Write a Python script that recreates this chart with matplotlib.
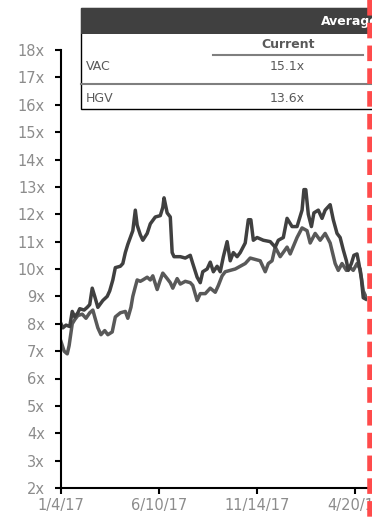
import numpy as np
import matplotlib
matplotlib.use('Agg')
import matplotlib.pyplot as plt
from matplotlib.lines import Line2D
from matplotlib.patches import Rectangle

# Dados
inicio = np.datetime64('2017-01-04')

dias_vac = [0, 3, 8, 14, 18, 22, 27, 30, 37, 42, 46, 50, 54, 59, 67, 74, 78, 83, 87,
            95, 99, 103, 107, 111, 115, 119, 122, 127, 131, 138, 143, 151, 159, 163,
            165, 170, 175, 178, 181, 191, 199, 207, 211, 218, 223, 227, 234, 239, 244,
            250, 255, 260, 266, 271, 276, 282, 287, 295, 300, 304, 308, 314, 324, 335,
            343, 348, 356, 362, 370, 378, 386, 389, 392, 396, 401, 405, 412, 418, 423,
            431, 436, 442, 447, 452, 457, 460, 465, 469, 474, 477, 481, 484, 488]
vac = [8.0, 7.85, 7.95, 7.9, 8.45, 8.25, 8.4, 8.55, 8.5, 8.6, 8.7, 9.3, 9.0, 8.6, 8.85,
       9.0, 9.2, 9.6, 10.05, 10.1, 10.2, 10.6, 10.9, 11.15, 11.4, 12.15, 11.6, 11.25,
       11.05, 11.3, 11.65, 11.9, 11.95, 12.25, 12.6, 12.05, 11.9, 10.6, 10.45, 10.45,
       10.4, 10.5, 10.2, 9.7, 9.5, 9.9, 10.0, 10.25, 9.9, 10.1, 9.9, 10.45, 11.0, 10.3,
       10.6, 10.45, 10.6, 10.95, 11.8, 11.8, 11.05, 11.15, 11.05, 11.0, 10.8, 11.05,
       11.15, 11.85, 11.55, 11.55, 12.15, 12.9, 12.9, 12.0, 11.55, 12.05, 12.15, 11.85,
       12.15, 12.35, 11.8, 11.3, 11.15, 10.7, 10.3, 9.95, 10.2, 10.5, 10.55, 10.2, 9.65,
       8.95, 8.9]

dias_hgv = [0, 5, 10, 13, 18, 22, 27, 34, 40, 46, 51, 54, 59, 64, 70, 75, 82, 87, 95,
            103, 107, 112, 115, 119, 122, 127, 131, 138, 143, 147, 154, 159, 163, 170,
            175, 179, 186, 191, 199, 207, 211, 218, 223, 231, 239, 247, 252, 258, 263,
            271, 279, 287, 295, 303, 311, 319, 327, 332, 338, 343, 351, 362, 367, 378,
            386, 394, 399, 407, 415, 423, 431, 439, 444, 450, 457, 463, 468, 474, 479,
            484, 488]
hgv = [7.35, 7.0, 6.9, 7.2, 8.0, 8.15, 8.3, 8.35, 8.2, 8.4, 8.5, 8.25, 7.85, 7.6, 7.75,
       7.6, 7.7, 8.25, 8.4, 8.45, 8.2, 8.6, 9.0, 9.35, 9.6, 9.55, 9.6, 9.7, 9.6, 9.75,
       9.25, 9.6, 9.85, 9.65, 9.5, 9.3, 9.65, 9.45, 9.55, 9.5, 9.4, 8.85, 9.1, 9.1, 9.3,
       9.15, 9.4, 9.75, 9.9, 9.95, 10.0, 10.1, 10.2, 10.4, 10.35, 10.3, 9.9, 10.2, 10.3,
       10.8, 10.45, 10.8, 10.55, 11.15, 11.5, 11.4, 10.95, 11.3, 11.05, 11.3, 10.95,
       10.2, 9.95, 10.2, 9.95, 10.05, 9.95, 10.2, 10.0, 9.2, 9.0]

ticks_x = ['2017-01-04', '2017-06-10', '2017-11-14', '2018-04-20']
rotulos_x = ['1/4/17', '6/10/17', '11/14/17', '4/20/18']
ticks_y = list(range(2, 19))

empresas = ['VAC', 'HGV']
atual = ['15.1x', '13.6x']

W, H = 372, 518
fig = plt.figure(figsize=(W / 100, H / 100), dpi=100)
ax = fig.add_axes([61 / W, 30 / H, 306 / W, 438 / H])

x_vac = inicio + np.array(dias_vac, dtype='timedelta64[D]')
x_hgv = inicio + np.array(dias_hgv, dtype='timedelta64[D]')
ax.plot(x_hgv, hgv, color='#595959', lw=2.5)
ax.plot(x_vac, vac, color='#404040', lw=2.5)

ax.set_ylim(2, 18)
ax.set_yticks(ticks_y)
ax.set_yticklabels([f'{v}x' for v in ticks_y])
ax.set_xlim(inicio, inicio + np.timedelta64(490, 'D'))
ax.set_xticks(np.array(ticks_x, dtype='datetime64[D]'))
ax.set_xticklabels(rotulos_x)

for s in ['top', 'right']:
    ax.spines[s].set_visible(False)
for s in ['left', 'bottom']:
    ax.spines[s].set_linewidth(1.5)
ax.tick_params(axis='both', direction='out', length=4.5, width=1.5,
               colors='black', labelcolor='#8c8c8c', labelsize=10.5)
ax.tick_params(axis='y', pad=7)
ax.tick_params(axis='x', pad=3)

# Tabela (em pixels da figura)
def fx(px):
    return px / W

def fy(py):
    return 1 - py / H

tabela = Rectangle((fx(81), fy(109)), fx(330), 101 / H, transform=fig.transFigure,
                   facecolor='white', edgecolor='black', lw=1.0, zorder=5)
fig.add_artist(tabela)
cab = Rectangle((fx(81), fy(34)), fx(330), 26 / H, transform=fig.transFigure,
                facecolor='#404040', edgecolor='none', zorder=6)
fig.add_artist(cab)
fig.text(fx(321), fy(21), 'Average', color='white', fontsize=9, fontweight='bold',
         va='center', ha='left', zorder=7)
fig.text(fx(288), fy(45), 'Current', color='#595959', fontsize=9, fontweight='bold',
         va='center', ha='center', zorder=7)
fig.add_artist(Line2D([fx(213), fx(363)], [fy(55), fy(55)], transform=fig.transFigure,
                      color='#7f7f7f', lw=1.5, zorder=7))
fig.add_artist(Line2D([fx(81), fx(372)], [fy(84), fy(84)], transform=fig.transFigure,
                      color='#7f7f7f', lw=1.5, zorder=7))
for i, (nome, val) in enumerate(zip(empresas, atual)):
    y = fy(66 + i * 32)
    fig.text(fx(86), y, nome, color='#595959', fontsize=9, va='center', ha='left', zorder=7)
    fig.text(fx(287), y, val, color='#595959', fontsize=9, va='center', ha='center', zorder=7)

# Linha vermelha tracejada
linha = Line2D([fx(369.5), fx(369.5)], [1, 0], transform=fig.transFigure,
               color='#ff4b4b', lw=4, zorder=10)
linha.set_dashes((2.8, 1.3))
fig.add_artist(linha)

plt.savefig('out.png', dpi=100)
